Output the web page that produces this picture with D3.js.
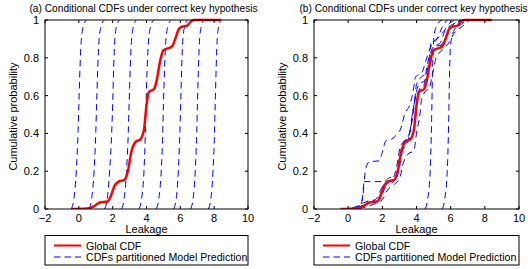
<!DOCTYPE html>
<html lang="en">
  <head>
    <meta charset="UTF-8" />
    <title>Conditional CDFs</title>
    <script src="https://cdn.jsdelivr.net/npm/d3@7/dist/d3.min.js"></script>
    <style>
      body { margin: 0; background: #fff; }
      text { font-family: "Liberation Sans", Arial, sans-serif; fill: #000; }
      .tick-label { font-size: 11px; }
      .title { font-size: 10.2px; }
      .axis-label { font-size: 11px; }
      .legend-text { font-size: 10.6px; }
    </style>
  </head>
  <body>
    <svg width="528" height="269"></svg>
    <script>
      const svg = d3.select("svg");

      const xTicks = [-2, 0, 2, 4, 6, 8, 10];
      const yTicks = [0, 0.2, 0.4, 0.6, 0.8, 1];
      const titles = [
        "(a) Conditional CDFs under correct key hypothesis",
        "(b) Conditional CDFs under correct key hypothesis",
      ];
      const legendLabels = ["Global CDF", "CDFs partitioned Model Prediction"];

      // global CDF (leakage, probability)
      const globalCdf = [
        [-0.45, 0], [0.3, 0.001], [0.6, 0.004], [0.9, 0.015], [1.2, 0.033],
        [1.7, 0.04], [1.9, 0.07], [2.1, 0.12], [2.35, 0.145], [2.7, 0.155],
        [2.9, 0.2], [3.1, 0.3], [3.35, 0.355], [3.65, 0.37], [3.85, 0.42],
        [4.0, 0.55], [4.15, 0.62], [4.45, 0.635], [4.6, 0.68], [4.8, 0.78],
        [5.0, 0.84], [5.5, 0.86], [5.7, 0.9], [5.9, 0.95], [6.1, 0.965],
        [6.4, 0.97], [6.6, 0.99], [6.8, 1.0], [8.4, 1.0],
      ];

      // panel (a): partitioned CDFs
      const cdfsA = [
        [[-0.45, 0], [-0.3, 0.05], [-0.15, 0.2], [-0.05, 0.4], [0.0, 0.55], [0.07, 0.75], [0.15, 0.9], [0.28, 0.97], [0.45, 1]],
        [[0.6, 0], [0.75, 0.05], [0.9, 0.2], [1.0, 0.4], [1.05, 0.55], [1.12, 0.75], [1.2, 0.9], [1.33, 0.97], [1.5, 1]],
        [[1.52, 0], [1.67, 0.05], [1.82, 0.2], [1.94, 0.4], [2.0, 0.55], [2.06, 0.75], [2.13, 0.9], [2.24, 0.97], [2.4, 1]],
        [[2.52, 0], [2.67, 0.05], [2.82, 0.2], [2.92, 0.4], [2.97, 0.55], [3.04, 0.75], [3.12, 0.9], [3.24, 0.97], [3.4, 1]],
        [[3.55, 0], [3.7, 0.05], [3.85, 0.2], [3.93, 0.4], [3.97, 0.55], [4.04, 0.75], [4.13, 0.9], [4.26, 0.97], [4.43, 1]],
        [[4.57, 0], [4.72, 0.05], [4.87, 0.2], [4.96, 0.4], [5.0, 0.55], [5.07, 0.75], [5.15, 0.9], [5.28, 0.97], [5.45, 1]],
        [[5.6, 0], [5.75, 0.05], [5.88, 0.2], [5.97, 0.4], [6.02, 0.55], [6.08, 0.75], [6.15, 0.9], [6.27, 0.97], [6.43, 1]],
        [[6.6, 0], [6.75, 0.05], [6.88, 0.2], [6.97, 0.4], [7.01, 0.55], [7.07, 0.75], [7.14, 0.9], [7.25, 0.97], [7.4, 1]],
        [[7.65, 0], [7.8, 0.05], [7.93, 0.2], [8.02, 0.4], [8.06, 0.55], [8.12, 0.75], [8.18, 0.9], [8.28, 0.97], [8.42, 1]],
      ];

      // panel (b): partitioned CDFs
      const cdfsB = [
        [[4.5, 0], [4.65, 0.05], [4.8, 0.2], [4.88, 0.45], [4.93, 0.7], [4.98, 0.85], [5.05, 0.93], [5.25, 0.98], [5.5, 1]],
        [[5.5, 0], [5.65, 0.05], [5.8, 0.2], [5.88, 0.45], [5.93, 0.7], [5.98, 0.85], [6.1, 0.92], [6.3, 0.96], [6.6, 1]],
        [[-0.3, 0], [0.5, 0.01], [0.8, 0.04], [0.92, 0.14], [1.05, 0.22], [1.25, 0.25], [1.8, 0.255], [2.0, 0.3], [2.2, 0.36],
         [2.55, 0.37], [2.9, 0.4], [3.1, 0.43], [3.3, 0.5], [3.6, 0.55], [3.8, 0.62], [3.95, 0.7], [4.3, 0.72], [4.6, 0.8],
         [4.85, 0.86], [5.2, 0.9], [5.5, 0.96], [5.8, 1]],
        [[0.2, 0], [0.7, 0.02], [0.88, 0.08], [0.95, 0.145], [2.1, 0.145], [2.3, 0.16], [2.8, 0.18], [3.0, 0.27], [3.2, 0.35],
         [3.5, 0.38], [3.75, 0.47], [3.95, 0.6], [4.15, 0.66], [4.5, 0.68], [4.7, 0.76], [4.95, 0.84], [5.4, 0.86],
         [5.8, 0.92], [6.1, 0.97], [6.6, 1]],
        [[0.0, 0], [1.0, 0.01], [1.6, 0.03], [2.0, 0.05], [2.3, 0.1], [2.7, 0.13], [3.0, 0.16], [3.25, 0.25], [3.5, 0.29],
         [3.85, 0.31], [4.0, 0.4], [4.2, 0.5], [4.3, 0.58], [4.5, 0.62], [4.75, 0.64], [4.95, 0.72], [5.15, 0.8], [5.5, 0.84],
         [5.9, 0.88], [6.2, 0.93], [6.6, 0.96], [7.1, 1]],
        [[-0.2, 0], [0.6, 0.01], [1.0, 0.02], [1.3, 0.035], [1.8, 0.045], [2.2, 0.12], [2.45, 0.15], [2.8, 0.16], [3.0, 0.22],
         [3.2, 0.32], [3.45, 0.37], [3.7, 0.38], [3.9, 0.45], [4.05, 0.56], [4.2, 0.64], [4.5, 0.65], [4.7, 0.72], [4.9, 0.8],
         [5.1, 0.86], [5.5, 0.87], [5.8, 0.93], [6.0, 0.96], [6.5, 0.97], [6.9, 1]],
        [[-0.4, 0], [0.4, 0.01], [0.85, 0.03], [1.1, 0.04], [1.6, 0.05], [1.9, 0.1], [2.15, 0.14], [2.6, 0.16], [2.85, 0.23],
         [3.05, 0.33], [3.3, 0.36], [3.6, 0.4], [3.8, 0.52], [3.95, 0.6], [4.2, 0.63], [4.45, 0.66], [4.6, 0.75], [4.8, 0.82],
         [5.0, 0.86], [5.4, 0.88], [5.65, 0.94], [6.0, 0.97], [6.4, 0.99], [6.7, 1]],
        [[0.0, 0], [0.9, 0.02], [1.4, 0.04], [1.8, 0.06], [2.1, 0.13], [2.6, 0.14], [2.9, 0.19], [3.1, 0.3], [3.4, 0.34],
         [3.6, 0.4], [3.75, 0.5], [3.9, 0.58], [4.0, 0.66], [4.3, 0.7], [4.6, 0.72], [4.75, 0.8], [4.85, 0.88], [5.2, 0.9],
         [5.6, 0.94], [5.9, 0.98], [6.3, 1]],
      ];

      const panels = [
        { left: 45, right: 248, title: titles[0], cdfs: cdfsA },
        { left: 314, right: 519, title: titles[1], cdfs: cdfsB },
      ];
      const plotTop = 20, plotBottom = 209;
      const tickLen = 3;

      panels.forEach((p, idx) => {
        const x = d3.scaleLinear().domain([-2, 10]).range([p.left, p.right]);
        const y = d3.scaleLinear().domain([0, 1]).range([plotBottom, plotTop]);
        const g = svg.append("g");

        const clipId = "clip" + idx;
        svg.append("clipPath").attr("id", clipId)
          .append("rect")
          .attr("x", p.left).attr("y", plotTop - 2)
          .attr("width", p.right - p.left).attr("height", plotBottom - plotTop + 2);

        const line = d3.line()
          .x((d) => x(d[0]))
          .y((d) => y(d[1]))
          .curve(d3.curveMonotoneX);

        const lines = g.append("g").attr("clip-path", `url(#${clipId})`);

        lines.selectAll(".cdf")
          .data(p.cdfs)
          .enter()
          .append("path")
          .attr("class", "cdf")
          .attr("d", line)
          .attr("fill", "none")
          .attr("stroke", "#0000ff")
          .attr("stroke-width", 1)
          .attr("stroke-dasharray", "6.5,4.5");

        lines.append("path")
          .datum(globalCdf)
          .attr("d", line)
          .attr("fill", "none")
          .attr("stroke", "#ff0000")
          .attr("stroke-width", 2.5);

        // box with inward ticks on all sides
        g.append("rect")
          .attr("x", p.left).attr("y", plotTop)
          .attr("width", p.right - p.left).attr("height", plotBottom - plotTop)
          .attr("fill", "none").attr("stroke", "#000").attr("stroke-width", 1);

        xTicks.forEach((t) => {
          g.append("line").attr("x1", x(t)).attr("x2", x(t))
            .attr("y1", plotBottom).attr("y2", plotBottom - tickLen).attr("stroke", "#000");
          g.append("line").attr("x1", x(t)).attr("x2", x(t))
            .attr("y1", plotTop).attr("y2", plotTop + tickLen).attr("stroke", "#000");
        });
        yTicks.forEach((t) => {
          g.append("line").attr("x1", p.left).attr("x2", p.left + tickLen)
            .attr("y1", y(t)).attr("y2", y(t)).attr("stroke", "#000");
          g.append("line").attr("x1", p.right).attr("x2", p.right - tickLen)
            .attr("y1", y(t)).attr("y2", y(t)).attr("stroke", "#000");
        });

        g.selectAll(".xt")
          .data(xTicks)
          .enter()
          .append("text")
          .attr("class", "tick-label")
          .attr("x", (d) => x(d))
          .attr("y", 222)
          .attr("text-anchor", "middle")
          .text((d) => (d < 0 ? "\u2212" + Math.abs(d) : d));

        g.selectAll(".yt")
          .data(yTicks)
          .enter()
          .append("text")
          .attr("class", "tick-label")
          .attr("x", p.left - 6)
          .attr("y", (d) => y(d) + 4)
          .attr("text-anchor", "end")
          .text((d) => d);

        g.append("text")
          .attr("class", "axis-label")
          .attr("x", (p.left + p.right) / 2)
          .attr("y", 233)
          .attr("text-anchor", "middle")
          .text("Leakage");

        g.append("text")
          .attr("class", "axis-label")
          .attr("transform", `translate(${p.left - 28},${(plotTop + plotBottom) / 2 + 2}) rotate(-90)`)
          .attr("text-anchor", "middle")
          .text("Cumulative probability");

        g.append("text")
          .attr("class", "title")
          .attr("x", (p.left + p.right) / 2 - 3)
          .attr("y", 12)
          .attr("text-anchor", "middle")
          .text(p.title);

        // legend
        const lg = g.append("g");
        lg.append("rect")
          .attr("x", p.left).attr("y", 235.5)
          .attr("width", p.right - p.left).attr("height", 29.5)
          .attr("fill", "#fff").attr("stroke", "#000");
        lg.append("line")
          .attr("x1", p.left + 9).attr("x2", p.left + 36)
          .attr("y1", 245.5).attr("y2", 245.5)
          .attr("stroke", "#ff0000").attr("stroke-width", 2);
        lg.append("line")
          .attr("x1", p.left + 9).attr("x2", p.left + 36)
          .attr("y1", 257).attr("y2", 257)
          .attr("stroke", "#0000ff").attr("stroke-width", 1)
          .attr("stroke-dasharray", "6.5,4");
        lg.selectAll(".lt")
          .data(legendLabels)
          .enter()
          .append("text")
          .attr("class", "legend-text")
          .attr("x", p.left + 41)
          .attr("y", (d, i) => 249.5 + i * 11.7)
          .text((d) => d);
      });
    </script>
  </body>
</html>
